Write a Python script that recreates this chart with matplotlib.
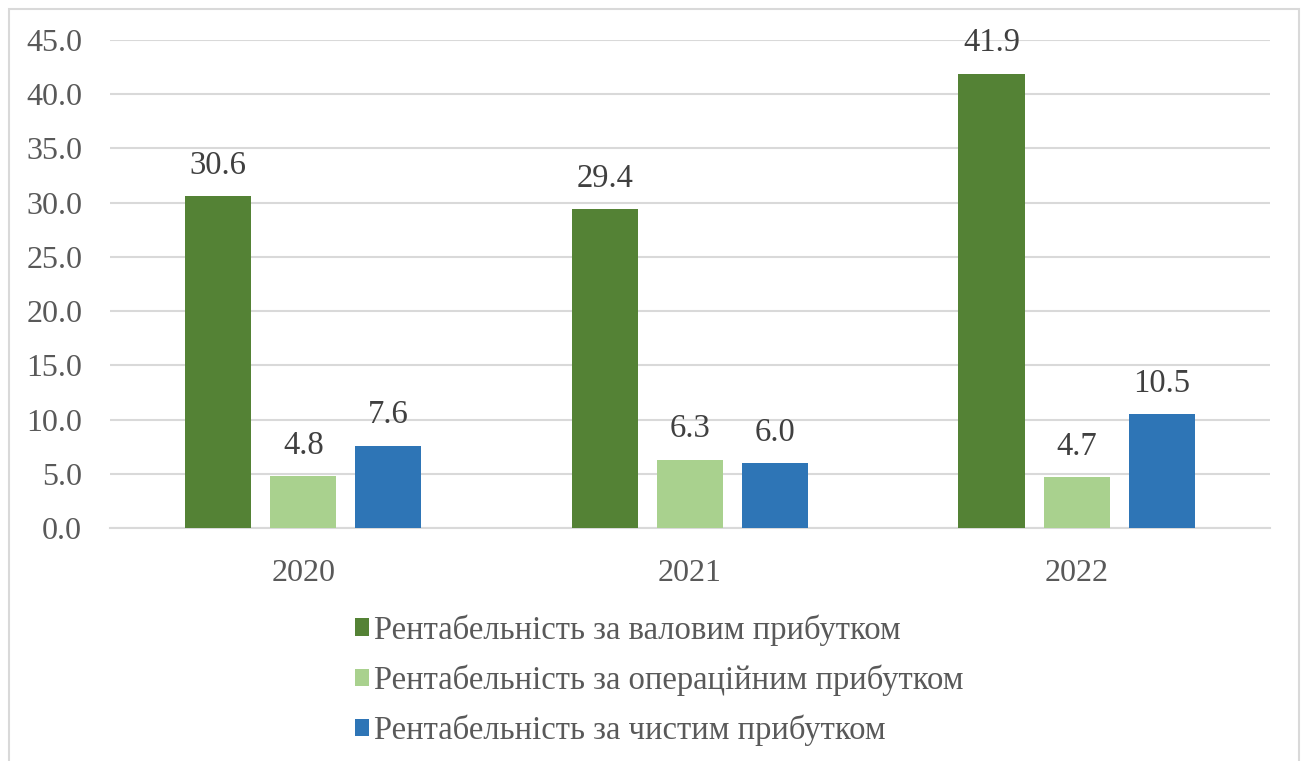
import matplotlib.pyplot as plt
from matplotlib.patches import Rectangle
import numpy as np

# data
years = ["2020", "2021", "2022"]
gross = [30.6, 29.4, 41.9]
operating = [4.8, 6.3, 4.7]
net = [7.6, 6.0, 10.5]
labels = ["Рентабельність за валовим прибутком",
          "Рентабельність за операційним прибутком",
          "Рентабельність за чистим прибутком"]
colors = ["#548235", "#a9d18e", "#2e75b6"]

plt.rcParams['font.family'] = ['Liberation Serif', 'DejaVu Serif']

fig = plt.figure(figsize=(13.06, 7.61), dpi=100)
ax = fig.add_axes([0.0842, 0.3062, 0.8882, 0.6412])

x = np.arange(len(years))
width = 0.171
step = 0.22
series = [gross, operating, net]
bars = []
for i, vals in enumerate(series):
    b = ax.bar(x + (i - 1) * step, vals, width, color=colors[i], label=labels[i], zorder=3)
    bars.append(b)
    for rect, v in zip(b, vals):
        ax.text(rect.get_x() + rect.get_width() / 2, v + 1.4, "%.1f" % v,
                ha="center", va="bottom", fontsize=23.5, color="#404040")

ax.set_xlim(-0.5, 2.5)
ax.set_ylim(0, 45)
ax.set_yticks(np.arange(0, 46, 5))
ax.set_yticklabels(["%.1f" % t for t in np.arange(0, 46, 5)])
ax.set_xticks(x)
ax.set_xticklabels(years)
ax.tick_params(axis="both", length=0, labelsize=23, colors="#595959")
ax.tick_params(axis="y", pad=20)
ax.tick_params(axis="x", pad=22)
ax.grid(axis="y", color="#d9d9d9", linewidth=1.5, zorder=0)
for s in ["top", "right", "left"]:
    ax.spines[s].set_visible(False)
ax.spines["bottom"].set_color("#d9d9d9")
ax.spines["bottom"].set_linewidth(1.5)

fig.legend(handles=bars, labels=labels, loc="upper center", bbox_to_anchor=(0.5046, 0.223),
           ncol=1, frameon=False, fontsize=23.5, labelcolor="#595959",
           handlelength=0.43, handleheight=0.43, handletextpad=0.15, labelspacing=0.57,
           borderpad=0.2)

# light frame around the whole chart
fig.patches.append(Rectangle((0.007, -0.01), 0.988, 0.998, transform=fig.transFigure,
                             fill=False, edgecolor="#d9d9d9", linewidth=1.5))

fig.savefig("out.png", dpi=100)
